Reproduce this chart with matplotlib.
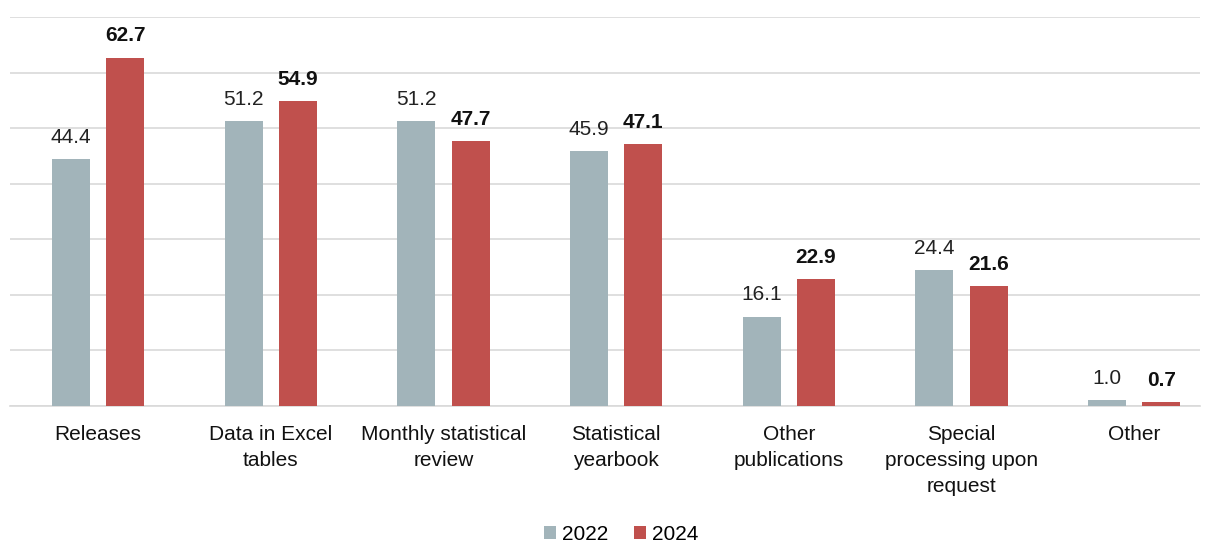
import numpy as np
import matplotlib.pyplot as plt

plt.rcParams['font.family'] = ['Liberation Sans', 'DejaVu Sans']

categories = ['Releases', 'Data in Excel\ntables', 'Monthly statistical\nreview',
              'Statistical\nyearbook', 'Other\npublications',
              'Special\nprocessing upon\nrequest', 'Other']
values_2022 = [44.4, 51.2, 51.2, 45.9, 16.1, 24.4, 1.0]
values_2024 = [62.7, 54.9, 47.7, 47.1, 22.9, 21.6, 0.7]
series_names = ['2022', '2024']

color_2022 = '#A2B4BA'
color_2024 = '#C0504D'

fig = plt.figure(figsize=(12.06, 5.42), dpi=100)
ax = fig.add_axes([10 / 1206, 1 - 406 / 542, 1190 / 1206, (406 - 17) / 542])

x = np.arange(len(categories))
w = 0.22
off = 0.157
b1 = ax.bar(x - off, values_2022, w, color=color_2022, label=series_names[0], zorder=3)
b2 = ax.bar(x + off, values_2024, w, color=color_2024, label=series_names[1], zorder=3)

for rect, v in zip(b1, values_2022):
    ax.text(rect.get_x() + rect.get_width() / 2, v + 2.2, f'{v:.1f}',
            ha='center', va='bottom', fontsize=15, color='#222222')
for rect, v in zip(b2, values_2024):
    ax.text(rect.get_x() + rect.get_width() / 2, v + 2.2, f'{v:.1f}',
            ha='center', va='bottom', fontsize=15, fontweight='bold', color='#111111')

ax.set_ylim(0, 70)
ax.set_xlim(-0.5096, 6.381)
ax.set_yticks(np.arange(0, 71, 10))
ax.yaxis.grid(True, color='#D9D9D9', linewidth=1.2, zorder=0)
ax.tick_params(axis='y', left=False, labelleft=False)
ax.set_xticks(x)
ax.set_xticklabels(categories, fontsize=15, color='#111111', linespacing=1.45)
ax.tick_params(axis='x', length=0, pad=14)
for s in ['top', 'right', 'left']:
    ax.spines[s].set_visible(False)
ax.spines['bottom'].set_color('#D9D9D9')
ax.spines['bottom'].set_linewidth(1.2)

fig.legend(handles=[b1, b2], labels=series_names, loc='center', bbox_to_anchor=(0.515, 1 - 534 / 542),
           ncol=2, frameon=False, fontsize=15, handlelength=0.6, handleheight=0.6,
           handletextpad=0.3, columnspacing=1.2)

fig.savefig('out.png', dpi=100)
